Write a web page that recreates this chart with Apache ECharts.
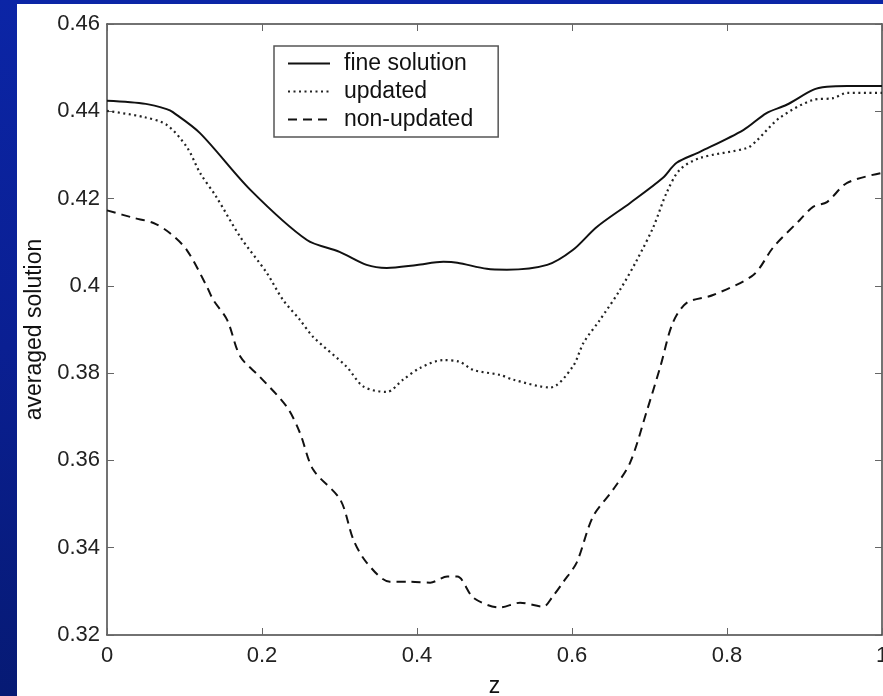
<!DOCTYPE html>
<html>
<head>
<meta charset="utf-8">
<script src="https://cdn.jsdelivr.net/npm/echarts@6/dist/echarts.min.js"></script>
<style>
html,body{margin:0;padding:0;width:883px;height:696px;overflow:hidden;
background:linear-gradient(180deg,#0b25a6 0%,#0a1f92 50%,#061a74 100%);}
#c{position:absolute;left:17px;top:4px;width:866px;height:692px;background:#fff;}
</style>
</head>
<body>
<div id="c"></div>
<script>
var xTicks = [0, 0.2, 0.4, 0.6, 0.8, 1];
var yTicks = [0.32, 0.34, 0.36, 0.38, 0.4, 0.42, 0.44, 0.46];
var seriesNames = ['fine solution', 'updated', 'non-updated'];

var zFine = [0, 0.05, 0.077, 0.085, 0.12, 0.185, 0.258, 0.30, 0.335, 0.361, 0.40, 0.434, 0.452, 0.49, 0.516, 0.568, 0.601, 0.632, 0.675, 0.717, 0.735, 0.765, 0.821, 0.851, 0.877, 0.911, 0.929, 0.955, 1.0];
var fine = [0.4424, 0.4417, 0.4405, 0.4398, 0.4350, 0.4220, 0.4105, 0.4078, 0.4048, 0.4041, 0.4048, 0.4055, 0.4053, 0.4039, 0.4037, 0.4048, 0.4082, 0.4135, 0.4190, 0.4247, 0.4282, 0.4307, 0.4357, 0.4396, 0.4415, 0.4449, 0.4456, 0.4458, 0.4458];

var zUpd = [0, 0.047, 0.077, 0.103, 0.12, 0.141, 0.172, 0.206, 0.227, 0.249, 0.266, 0.309, 0.331, 0.361, 0.382, 0.404, 0.434, 0.455, 0.473, 0.507, 0.524, 0.572, 0.601, 0.615, 0.636, 0.662, 0.684, 0.705, 0.722, 0.739, 0.765, 0.826, 0.839, 0.868, 0.911, 0.937, 0.955, 1.0];
var upd = [0.4401, 0.4387, 0.4369, 0.4318, 0.4259, 0.4204, 0.4112, 0.4030, 0.3968, 0.3922, 0.3883, 0.3815, 0.3769, 0.3757, 0.3785, 0.3812, 0.3830, 0.3826, 0.3807, 0.3796, 0.3785, 0.3767, 0.3815, 0.3870, 0.3922, 0.3991, 0.4060, 0.4135, 0.4213, 0.4266, 0.4293, 0.4316, 0.4334, 0.4385, 0.4426, 0.4430, 0.4442, 0.4442];

var zNon = [0, 0.034, 0.06, 0.081, 0.103, 0.129, 0.137, 0.155, 0.172, 0.197, 0.232, 0.249, 0.266, 0.301, 0.318, 0.335, 0.365, 0.391, 0.417, 0.439, 0.452, 0.473, 0.507, 0.533, 0.563, 0.575, 0.589, 0.606, 0.627, 0.653, 0.675, 0.697, 0.714, 0.730, 0.748, 0.782, 0.834, 0.860, 0.894, 0.911, 0.929, 0.955, 1.0];
var non = [0.4173, 0.4156, 0.4144, 0.4121, 0.4082, 0.3998, 0.3968, 0.3922, 0.3838, 0.3792, 0.3723, 0.3663, 0.3579, 0.3510, 0.3418, 0.3366, 0.3322, 0.3322, 0.3320, 0.3334, 0.3334, 0.3285, 0.3263, 0.3274, 0.3265, 0.3288, 0.3322, 0.3366, 0.3471, 0.3533, 0.3595, 0.3716, 0.3815, 0.3915, 0.3961, 0.3979, 0.4025, 0.4089, 0.4151, 0.4181, 0.4192, 0.4236, 0.4259];

function pairs(xs, ys){ return xs.map(function(x,i){ return [x, ys[i]]; }); }

var FONT = 'Liberation Sans, Arial, sans-serif';
var axisCol = '#444';
var chart = echarts.init(document.getElementById('c'));
var axisCommon = {
  axisLine: {show: true, onZero: false, lineStyle: {color: axisCol, width: 1.5}},
  axisTick: {show: true, inside: true, length: 7, lineStyle: {color: '#666', width: 1}},
  splitLine: {show: false}
};
chart.setOption({
  animation: false,
  grid: {left: 90, top: 20, right: 1, bottom: 61, containLabel: false, outerBoundsMode: 'none'},
  legend: {
    orient: 'vertical', left: 257, top: 42,
    data: seriesNames,
    backgroundColor: '#fff', borderColor: '#555', borderWidth: 1.5, borderRadius: 0,
    padding: [6, 25, 6, 13], itemGap: 5, itemWidth: 42, itemHeight: 14,
    itemStyle: {opacity: 0},
    textStyle: {fontFamily: FONT, fontSize: 23, color: '#111', lineHeight: 23, padding: [0, 0, 0, 9]}
  },
  xAxis: [
    Object.assign({type: 'value', min: xTicks[0], max: xTicks[xTicks.length-1], interval: 0.2, position: 'bottom',
      name: 'z', nameLocation: 'middle', nameGap: 40,
      nameTextStyle: {fontFamily: FONT, fontSize: 23, color: '#111'},
      axisLabel: {fontFamily: FONT, fontSize: 22, color: '#222', margin: 10}}, axisCommon),
    Object.assign({type: 'value', min: xTicks[0], max: xTicks[xTicks.length-1], interval: 0.2, position: 'top',
      axisLabel: {show: false}}, axisCommon)
  ],
  yAxis: [
    Object.assign({type: 'value', min: yTicks[0], max: yTicks[yTicks.length-1], interval: 0.02, position: 'left',
      name: 'averaged solution', nameLocation: 'middle', nameGap: 58,
      nameTextStyle: {fontFamily: FONT, fontSize: 23, color: '#111'},
      axisLabel: {fontFamily: FONT, fontSize: 22, color: '#222', margin: 7}}, axisCommon),
    Object.assign({type: 'value', min: yTicks[0], max: yTicks[yTicks.length-1], interval: 0.02, position: 'right',
      axisLabel: {show: false}}, axisCommon)
  ],
  series: [
    {name: seriesNames[0], type: 'line', data: pairs(zFine, fine), smooth: 0.3, symbol: 'none',
      lineStyle: {color: '#111', width: 2, type: 'solid'}, itemStyle: {color: '#111'}},
    {name: seriesNames[1], type: 'line', data: pairs(zUpd, upd), smooth: 0.3, symbol: 'none',
      lineStyle: {color: '#222', width: 2.2, type: [2, 3.5]}, itemStyle: {color: '#222'}},
    {name: seriesNames[2], type: 'line', data: pairs(zNon, non), smooth: 0.3, symbol: 'none',
      lineStyle: {color: '#111', width: 2, type: [9, 6]}, itemStyle: {color: '#111'}}
  ]
});
</script>
</body>
</html>
